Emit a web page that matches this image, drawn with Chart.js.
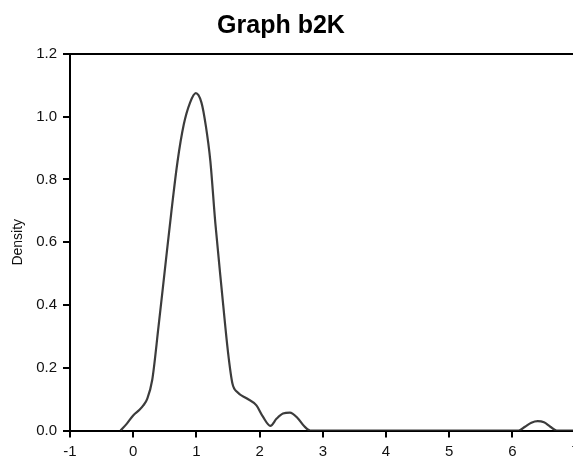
<!DOCTYPE html>
<html>
<head>
<meta charset="utf-8">
<script src="https://cdn.jsdelivr.net/npm/chart.js@4.4.0/dist/chart.umd.min.js"></script>
<style>
  html, body { margin: 0; padding: 0; background: #fff; overflow: hidden; }
  #wrap { width: 573px; height: 457px; overflow: hidden; position: relative; }
  canvas { display: block; }
</style>
</head>
<body>
<div id="wrap"><canvas id="densityChart" width="600" height="457"></canvas></div>
<script>
// ============================
// データ
// ============================
const chartTitle = "Graph b2K";
const yAxisLabel = "Density";

const densityX = [-0.2, -0.1, 0.0, 0.1, 0.16, 0.22, 0.3, 0.4, 0.5, 0.6, 0.7, 0.8, 0.9, 0.99,
  1.08, 1.15, 1.22, 1.3, 1.4, 1.5, 1.57, 1.65, 1.8, 1.95, 2.05, 2.17, 2.27, 2.37, 2.48,
  2.6, 2.7, 2.8, 4.0, 5.0, 6.1, 6.2, 6.3, 6.4, 6.5, 6.6, 6.7, 7.0];
const densityY = [0, 0.022, 0.048, 0.066, 0.08, 0.1, 0.16, 0.33, 0.51, 0.69, 0.855, 0.975, 1.045, 1.075,
  1.045, 0.97, 0.86, 0.66, 0.45, 0.25, 0.15, 0.122, 0.102, 0.08, 0.045, 0.015, 0.038, 0.054, 0.057,
  0.04, 0.015, 0, 0, 0, 0, 0.012, 0.025, 0.03, 0.026, 0.012, 0, 0];

const xTicks = [-1, 0, 1, 2, 3, 4, 5, 6, 7];
const yTicks = [0, 0.2, 0.4, 0.6, 0.8, 1.0, 1.2];

// ============================
// 共通スタイル
// ============================
const FONT = "'Liberation Sans', Arial, sans-serif";
const TEXT_COLOR = "#111";

const points = densityX.map((x, i) => ({ x: x, y: densityY[i] }));

// タイトル描画プラグイン
const titlePlugin = {
  id: "plotTitle",
  afterDraw(chart) {
    const ctx = chart.ctx;
    ctx.save();
    ctx.font = "bold 25px " + FONT;
    ctx.fillStyle = "#000";
    ctx.textAlign = "center";
    ctx.textBaseline = "middle";
    ctx.fillText(chartTitle, 281, 26);
    ctx.restore();
  }
};

const ctx = document.getElementById("densityChart").getContext("2d");
new Chart(ctx, {
  type: "line",
  data: {
    datasets: [{
      data: points,
      borderColor: "#3c3c3c",
      borderWidth: 2.2,
      pointRadius: 0,
      fill: false,
      cubicInterpolationMode: "monotone"
    }]
  },
  options: {
    responsive: false,
    animation: false,
    layout: { padding: { top: 54, right: 24.4, bottom: 0, left: 0 } },
    plugins: { legend: { display: false }, tooltip: { enabled: false } },
    scales: {
      x: {
        type: "linear",
        min: -1,
        max: 7,
        z: 1,
        afterBuildTicks: (s) => { s.ticks = xTicks.map(v => ({ value: v })); },
        afterFit: (s) => { s.height = 26.5; },
        border: { color: "#000", width: 2 },
        grid: { drawOnChartArea: false, color: "#000", lineWidth: 2, tickLength: 7 },
        ticks: { color: TEXT_COLOR, font: { family: FONT, size: 15 }, padding: 5, maxRotation: 0 }
      },
      xTop: {
        type: "linear",
        position: "top",
        min: -1,
        max: 7,
        z: 1,
        afterFit: (s) => { s.height = 0; },
        border: { color: "#000", width: 2 },
        grid: { display: false, drawTicks: false },
        ticks: { display: false }
      },
      y: {
        min: 0,
        max: 1.2,
        z: 1,
        afterBuildTicks: (s) => { s.ticks = yTicks.map(v => ({ value: v })); },
        afterFit: (s) => { s.width = 70; },
        border: { color: "#000", width: 2 },
        grid: { drawOnChartArea: false, color: "#000", lineWidth: 2, tickLength: 7 },
        ticks: {
          color: TEXT_COLOR,
          font: { family: FONT, size: 15 },
          padding: 6,
          callback: (v) => Number(v).toFixed(1)
        },
        title: {
          display: true,
          text: yAxisLabel,
          color: TEXT_COLOR,
          font: { family: FONT, size: 14 },
          padding: { top: 10, bottom: 0 }
        }
      }
    }
  },
  plugins: [titlePlugin]
});
</script>
</body>
</html>
